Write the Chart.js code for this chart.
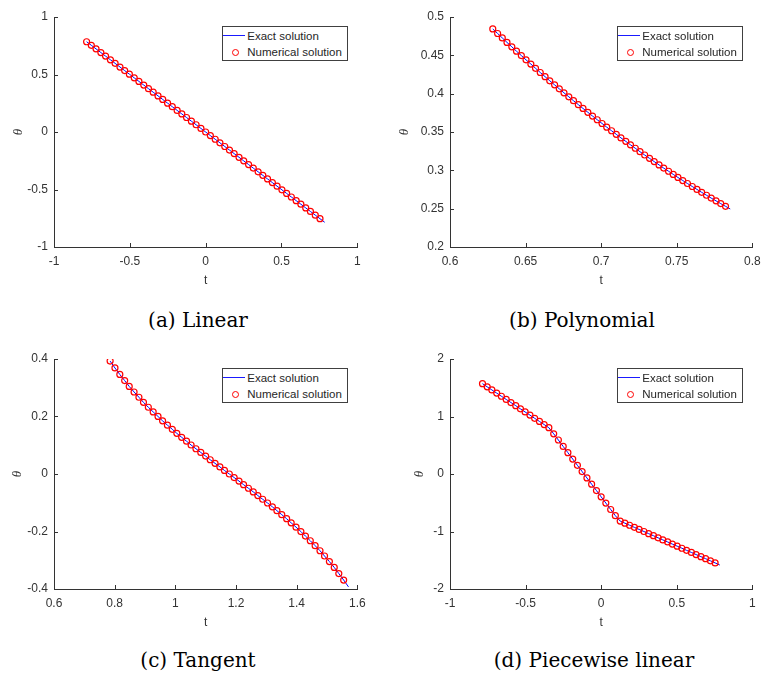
<!DOCTYPE html>
<html lang="en">
<head>
  <meta charset="UTF-8">
  <title>Exact vs numerical solution</title>
  <script src="https://cdn.jsdelivr.net/npm/chart.js"></script>
  <style>
    body { margin: 0; background: #fff; }
    #wrap { position: relative; width: 763px; height: 675px; overflow: hidden; }
    canvas { position: absolute; }
    .cap { position: absolute; font-family: 'DejaVu Serif', serif; font-size: 20px; line-height: 24px; color: #000; white-space: nowrap; transform: translateX(-50%); }
    .leg { position: absolute; width: 124px; height: 33px; border: 1px solid #404040; background: #fff; font-family: 'Liberation Sans', Arial, sans-serif; font-size: 11.5px; color: #262626; }
    .leg span { position: absolute; left: 24px; line-height: 14px; white-space: nowrap; }
    .leg .ln { position: absolute; left: 0px; top: 8px; width: 22px; height: 0; border-top: 1.5px solid #1a1aff; }
    .leg .pt { position: absolute; left: 9px; top: 22px; width: 5px; height: 5px; border: 1px solid #ff0000; border-radius: 50%; }
  </style>
</head>
<body>
<div id="wrap">
  <canvas id="chartA" width="380" height="300" style="left:0px;top:0px"></canvas>
  <canvas id="chartB" width="383" height="300" style="left:380px;top:0px"></canvas>
  <canvas id="chartC" width="380" height="300" style="left:0px;top:342px"></canvas>
  <canvas id="chartD" width="383" height="300" style="left:380px;top:342px"></canvas>
  <div class="cap" style="left:198px;top:308px">(a) Linear</div>
  <div class="cap" style="left:582px;top:308px">(b) Polynomial</div>
  <div class="cap" style="left:198px;top:648px">(c) Tangent</div>
  <div class="cap" style="left:594px;top:648px">(d) Piecewise linear</div>
</div>

<script>
  // t grid shared by (a) and (d)
  const tLin = [-0.785, -0.754, -0.723, -0.691, -0.660, -0.628, -0.597, -0.565, -0.534, -0.503, -0.471, -0.440, -0.408, -0.377, -0.346, -0.314, -0.283, -0.251, -0.220, -0.188, -0.157, -0.126, -0.094, -0.063, -0.031, 0, 0.031, 0.063, 0.094, 0.126, 0.157, 0.188, 0.220, 0.251, 0.283, 0.314, 0.346, 0.377, 0.408, 0.440, 0.471, 0.503, 0.534, 0.565, 0.597, 0.628, 0.660, 0.691, 0.723, 0.754, 0.785];
  const thetaLinear = [0.785, 0.754, 0.723, 0.691, 0.660, 0.628, 0.597, 0.565, 0.534, 0.503, 0.471, 0.440, 0.408, 0.377, 0.346, 0.314, 0.283, 0.251, 0.220, 0.188, 0.157, 0.126, 0.094, 0.063, 0.031, 0, -0.031, -0.063, -0.094, -0.126, -0.157, -0.188, -0.220, -0.251, -0.283, -0.314, -0.346, -0.377, -0.408, -0.440, -0.471, -0.503, -0.534, -0.565, -0.597, -0.628, -0.660, -0.691, -0.723, -0.754, -0.785];

  const tPoly = [0.6283, 0.6315, 0.6346, 0.6377, 0.6409, 0.6440, 0.6472, 0.6503, 0.6535, 0.6566, 0.6597, 0.6629, 0.6660, 0.6692, 0.6723, 0.6754, 0.6786, 0.6817, 0.6849, 0.6880, 0.6912, 0.6943, 0.6974, 0.7006, 0.7037, 0.7069, 0.7100, 0.7131, 0.7163, 0.7194, 0.7226, 0.7257, 0.7288, 0.7320, 0.7351, 0.7383, 0.7414, 0.7446, 0.7477, 0.7508, 0.7540, 0.7571, 0.7603, 0.7634, 0.7665, 0.7697, 0.7728, 0.7760, 0.7791, 0.7823, 0.7854];
  const thetaPoly = [0.4844, 0.4785, 0.4727, 0.4669, 0.4611, 0.4554, 0.4497, 0.4441, 0.4386, 0.4331, 0.4276, 0.4222, 0.4168, 0.4115, 0.4063, 0.4011, 0.3959, 0.3908, 0.3857, 0.3807, 0.3757, 0.3708, 0.3660, 0.3611, 0.3563, 0.3516, 0.3470, 0.3423, 0.3378, 0.3333, 0.3288, 0.3243, 0.3200, 0.3156, 0.3114, 0.3071, 0.3029, 0.2988, 0.2947, 0.2907, 0.2867, 0.2828, 0.2789, 0.2751, 0.2713, 0.2675, 0.2638, 0.2602, 0.2566, 0.2531, 0.2496];

  const tTan = [0.785, 0.801, 0.817, 0.833, 0.848, 0.864, 0.880, 0.895, 0.911, 0.927, 0.943, 0.958, 0.974, 0.990, 1.005, 1.021, 1.037, 1.052, 1.068, 1.084, 1.100, 1.115, 1.131, 1.147, 1.162, 1.178, 1.194, 1.210, 1.225, 1.241, 1.257, 1.272, 1.288, 1.304, 1.320, 1.335, 1.351, 1.367, 1.382, 1.398, 1.414, 1.429, 1.445, 1.461, 1.477, 1.492, 1.508, 1.524, 1.539, 1.555, 1.571];
  const thetaTan = [0.3927, 0.3688, 0.3462, 0.3249, 0.3046, 0.2853, 0.2669, 0.2492, 0.2322, 0.2159, 0.2001, 0.1848, 0.1699, 0.1555, 0.1414, 0.1276, 0.1141, 0.1008, 0.0878, 0.0749, 0.0622, 0.0496, 0.0371, 0.0247, 0.0123, 0, -0.0123, -0.0247, -0.0371, -0.0496, -0.0622, -0.0749, -0.0878, -0.1008, -0.1141, -0.1276, -0.1414, -0.1555, -0.1699, -0.1848, -0.2001, -0.2159, -0.2322, -0.2492, -0.2669, -0.2853, -0.3046, -0.3249, -0.3462, -0.3688, -0.3927];

  const thetaPiecewise = [1.571, 1.516, 1.462, 1.407, 1.352, 1.297, 1.243, 1.188, 1.133, 1.079, 1.024, 0.969, 0.914, 0.860, 0.805, 0.699, 0.591, 0.479, 0.371, 0.260, 0.151, 0.043, -0.069, -0.177, -0.288, -0.397, -0.505, -0.617, -0.725, -0.819, -0.855, -0.891, -0.928, -0.964, -1.000, -1.037, -1.073, -1.110, -1.146, -1.182, -1.219, -1.255, -1.291, -1.328, -1.364, -1.401, -1.437, -1.473, -1.510, -1.546, -1.583];

  // numerical solution is shown at the first 50 grid points
  const numPoints = 50;

  // tick labels
  const xTicksA = [-1, -0.5, 0, 0.5, 1];
  const yTicksA = [-1, -0.5, 0, 0.5, 1];
  const xTicksB = [0.6, 0.65, 0.7, 0.75, 0.8];
  const yTicksB = [0.2, 0.25, 0.3, 0.35, 0.4, 0.45, 0.5];
  const xTicksC = [0.6, 0.8, 1, 1.2, 1.4, 1.6];
  const yTicksC = [-0.4, -0.2, 0, 0.2, 0.4];
  const xTicksD = [-1, -0.5, 0, 0.5, 1];
  const yTicksD = [-2, -1, 0, 1, 2];

  const axisColor = '#333333';
  const tickFont = { family: "'Liberation Sans', Arial, sans-serif", size: 12 };

  // MATLAB style: tick marks point into the axes
  const inwardTicks = {
    id: 'inwardTicks',
    afterDraw(chart) {
      const { ctx, chartArea: a, scales: { x, y } } = chart;
      ctx.save();
      ctx.strokeStyle = axisColor;
      ctx.lineWidth = 1;
      ctx.beginPath();
      x.ticks.forEach(tk => {
        const px = Math.round(x.getPixelForValue(tk.value)) + 0.5;
        ctx.moveTo(px, a.bottom);
        ctx.lineTo(px, a.bottom - 4);
      });
      y.ticks.forEach(tk => {
        const py = Math.round(y.getPixelForValue(tk.value)) + 0.5;
        ctx.moveTo(a.left, py);
        ctx.lineTo(a.left + 4, py);
      });
      ctx.stroke();
      ctx.restore();
    }
  };

  function makeChart(p) {
    const exact = p.t.map((v, i) => ({ x: v, y: p.theta[i] }));
    const numerical = exact.slice(0, numPoints);
    const canvas = document.getElementById(p.id);
    const chart = new Chart(canvas, {
      type: 'scatter',
      data: {
        datasets: [
          {
            label: 'Exact solution',
            data: exact,
            showLine: true,
            borderColor: '#0000ff',
            borderWidth: 1,
            pointRadius: 0,
            order: 2
          },
          {
            label: 'Numerical solution',
            data: numerical,
            showLine: false,
            pointStyle: 'circle',
            pointRadius: 3,
            pointBorderWidth: 1.2,
            pointBorderColor: '#ff0000',
            pointBackgroundColor: 'rgba(0,0,0,0)',
            order: 1
          }
        ]
      },
      options: {
        responsive: false,
        animation: false,
        devicePixelRatio: 1,
        layout: { padding: { top: 17, right: p.right, left: 0, bottom: 0 } },
        plugins: { legend: { display: false }, tooltip: { enabled: false } },
        scales: {
          x: {
            type: 'linear',
            min: p.xTicks[0],
            max: p.xTicks[p.xTicks.length - 1],
            grid: { display: false, drawTicks: false },
            border: { display: true, color: axisColor, width: 1 },
            ticks: { color: axisColor, font: tickFont, padding: 7.5, maxRotation: 0, callback: v => String(v) },
            title: { display: true, text: 't', color: axisColor, font: tickFont, padding: { top: 0, bottom: 11.7 } },
            afterBuildTicks: s => { s.ticks = p.xTicks.map(v => ({ value: v })); },
            afterFit: s => { s.height = 53; s.paddingLeft = 0; s.paddingRight = 0; }
          },
          y: {
            type: 'linear',
            min: p.yTicks[0],
            max: p.yTicks[p.yTicks.length - 1],
            grid: { display: false, drawTicks: false },
            border: { display: true, color: axisColor, width: 1 },
            ticks: { color: axisColor, font: tickFont, padding: 6, callback: v => String(v) },
            title: { display: true, text: 'θ', color: axisColor, font: { family: "'Liberation Serif', serif", size: 13, style: 'italic' }, padding: { top: p.titlePad, bottom: 0 } },
            afterBuildTicks: s => { s.ticks = p.yTicks.map(v => ({ value: v })); },
            afterFit: s => { s.width = p.yWidth; s.paddingTop = 0; s.paddingBottom = 0; }
          }
        }
      },
      plugins: [inwardTicks]
    });

    // legend box in the top right corner of the axes
    const a = chart.chartArea;
    const leg = document.createElement('div');
    leg.className = 'leg';
    leg.style.left = (canvas.offsetLeft + a.right - 9 - 126) + 'px';
    leg.style.top = (canvas.offsetTop + a.top + 9) + 'px';
    leg.innerHTML = '<div class="ln"></div><span style="top:2px">Exact solution</span>' +
      '<div class="pt"></div><span style="top:18px">Numerical solution</span>';
    document.getElementById('wrap').appendChild(leg);
    return chart;
  }

  makeChart({ id: 'chartA', t: tLin, theta: thetaLinear, xTicks: xTicksA, yTicks: yTicksA, yWidth: 54, titlePad: 10.5, right: 22.7 });
  makeChart({ id: 'chartB', t: tPoly, theta: thetaPoly, xTicks: xTicksB, yTicks: yTicksB, yWidth: 70, titlePad: 17, right: 10.7 });
  makeChart({ id: 'chartC', t: tTan, theta: thetaTan, xTicks: xTicksC, yTicks: yTicksC, yWidth: 54, titlePad: 10, right: 22.7 });
  makeChart({ id: 'chartD', t: tLin, theta: thetaPiecewise, xTicks: xTicksD, yTicks: yTicksD, yWidth: 70, titlePad: 32, right: 10.7 });
</script>
</body>
</html>
